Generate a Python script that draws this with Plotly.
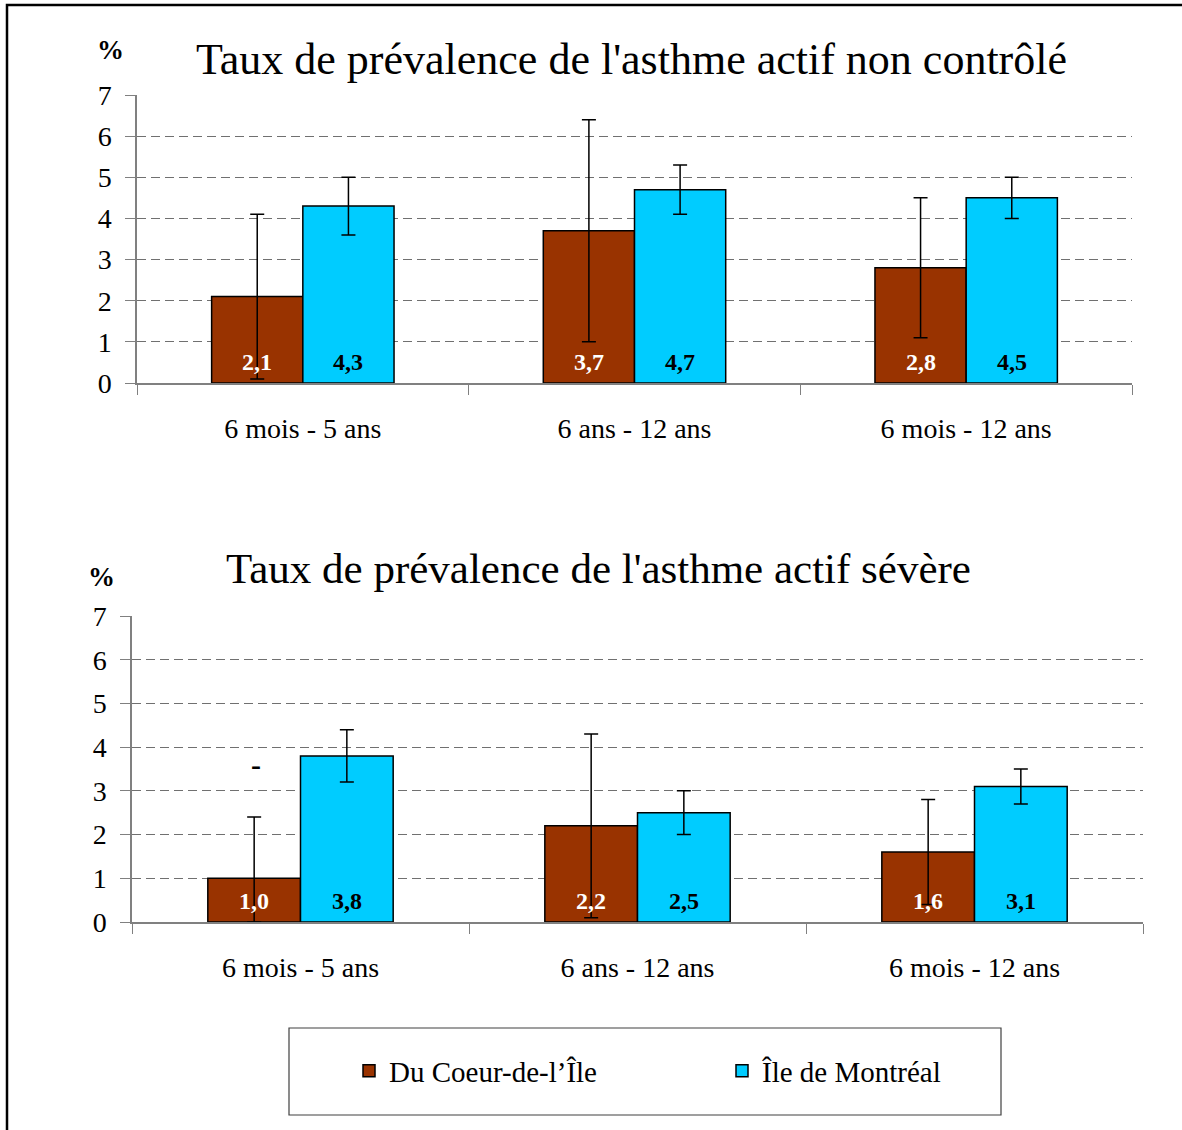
import plotly.graph_objects as go
from plotly.subplots import make_subplots

categories = ["6 mois - 5 ans", "6 ans - 12 ans", "6 mois - 12 ans"]
series_names = ["Du Coeur-de-l’Île", "Île de Montréal"]
colors = ["#993300", "#00CCFF"]
label_colors = ["white", "black"]

# Chart 1: asthme actif non contrôlé
top_coeur = [2.1, 3.7, 2.8]
top_coeur_lo = [0.1, 1.0, 1.1]
top_coeur_hi = [4.1, 6.4, 4.5]
top_mtl = [4.3, 4.7, 4.5]
top_mtl_lo = [3.6, 4.1, 4.0]
top_mtl_hi = [5.0, 5.3, 5.0]

# Chart 2: asthme actif sévère
bot_coeur = [1.0, 2.2, 1.6]
bot_coeur_lo = [0.0, 0.1, 0.4]
bot_coeur_hi = [2.4, 4.3, 2.8]
bot_mtl = [3.8, 2.5, 3.1]
bot_mtl_lo = [3.2, 2.0, 2.7]
bot_mtl_hi = [4.4, 3.0, 3.5]

titles = ["Taux de prévalence de l'asthme actif non contrôlé",
          "Taux de prévalence de l'asthme actif sévère"]
y_ticks = [0, 1, 2, 3, 4, 5, 6, 7]

W, H = 1182, 1130
FONT = "Liberation Serif, Times New Roman, serif"
BARGAP = 0.45


def fmt(v):
    return f"{v:.1f}".replace(".", ",")


def px_x(p):
    return p / W


def px_y(p):
    return 1 - p / H


domains = [
    dict(x=[px_x(137), px_x(1132)], y=[px_y(383), px_y(95)]),
    dict(x=[px_x(132), px_x(1143)], y=[px_y(922), px_y(616)]),
]

fig = make_subplots(rows=2, cols=1)

panels = [
    [(top_coeur, top_coeur_lo, top_coeur_hi), (top_mtl, top_mtl_lo, top_mtl_hi)],
    [(bot_coeur, bot_coeur_lo, bot_coeur_hi), (bot_mtl, bot_mtl_lo, bot_mtl_hi)],
]

annotations = []
for r, panel in enumerate(panels, start=1):
    # half bar width in pixels, from the axis length and the bar gap
    axis_px = (domains[r - 1]["x"][1] - domains[r - 1]["x"][0]) * W
    half_bar = axis_px / len(categories) * (1 - BARGAP) / 2 / 2
    xref = "x" if r == 1 else f"x{r}"
    yref = "y" if r == 1 else f"y{r}"
    for i, (vals, lo, hi) in enumerate(panel):
        fig.add_trace(go.Bar(
            x=categories, y=vals, name=series_names[i],
            marker=dict(color=colors[i], line=dict(color="black", width=1.5)),
            error_y=dict(type="data", symmetric=False,
                         array=[h - v for h, v in zip(hi, vals)],
                         arrayminus=[v - l for v, l in zip(vals, lo)],
                         color="black", thickness=1.5, width=7),
            showlegend=(r == 1),
        ), row=r, col=1)
        sign = -1 if i == 0 else 1
        for c, v in zip(categories, vals):
            annotations.append(dict(
                text=f"<b>{fmt(v)}</b>", x=c, y=0, xref=xref, yref=yref,
                xshift=sign * half_bar, yshift=21, xanchor="center",
                yanchor="middle", showarrow=False,
                font=dict(family=FONT, size=24, color=label_colors[i])))

for r, d in enumerate(domains, start=1):
    xa = "xaxis" if r == 1 else f"xaxis{r}"
    ya = "yaxis" if r == 1 else f"yaxis{r}"
    fig.layout[xa].update(
        domain=d["x"], showline=True, linecolor="#808080", linewidth=1.5,
        ticks="outside", tickson="boundaries", ticklen=10, tickcolor="#808080",
        tickfont=dict(family=FONT, size=28, color="black"),
        ticklabelstandoff=20, showgrid=False, zeroline=False, automargin=False,
    )
    fig.layout[ya].update(
        domain=d["y"], range=[0, 7], tickvals=y_ticks,
        showline=True, linecolor="#808080", linewidth=1.5,
        ticks="outside", ticklen=10, tickcolor="#808080",
        tickfont=dict(family=FONT, size=28, color="black"),
        ticklabelstandoff=8, automargin=False,
        showgrid=True, gridcolor="#707070", gridwidth=1.3, griddash="9px,5px",
        zeroline=False,
    )

annotations += [
    dict(text=titles[0], x=px_x(631), y=px_y(60), xref="paper", yref="paper",
         xanchor="center", yanchor="middle", showarrow=False,
         font=dict(family=FONT, size=44, color="black")),
    dict(text=titles[1], x=px_x(598), y=px_y(568), xref="paper", yref="paper",
         xanchor="center", yanchor="middle", showarrow=False,
         font=dict(family=FONT, size=43, color="black")),
    dict(text="<b>%</b>", x=px_x(110), y=px_y(50), xref="paper", yref="paper",
         xanchor="center", yanchor="middle", showarrow=False,
         font=dict(family=FONT, size=27, color="black")),
    dict(text="<b>%</b>", x=px_x(101), y=px_y(577), xref="paper", yref="paper",
         xanchor="center", yanchor="middle", showarrow=False,
         font=dict(family=FONT, size=27, color="black")),
    dict(text="<b>-</b>", x=categories[0], y=3.6, xref="x2", yref="y2",
         xshift=-45, xanchor="center", yanchor="middle", showarrow=False,
         font=dict(family=FONT, size=30, color="black")),
]

shapes = [
    # outer frame
    dict(type="rect", xref="paper", yref="paper", x0=px_x(7), x1=px_x(1195),
         y0=px_y(1145), y1=px_y(5), line=dict(color="black", width=2.5)),
    # legend box
    dict(type="rect", xref="paper", yref="paper", x0=px_x(289), x1=px_x(1001),
         y0=px_y(1115), y1=px_y(1028), line=dict(color="#404040", width=1.2)),
]

fig.update_layout(
    width=W, height=H, margin=dict(l=0, r=0, t=0, b=0, autoexpand=False),
    paper_bgcolor="white", plot_bgcolor="white",
    barmode="group", bargap=BARGAP, bargroupgap=0,
    annotations=annotations, shapes=shapes,
    font=dict(family=FONT, color="black"),
    legend=dict(orientation="h", x=px_x(349), y=px_y(1071), xanchor="left",
                yanchor="middle", font=dict(family=FONT, size=29, color="black"),
                entrywidth=328, entrywidthmode="pixels",
                bgcolor="rgba(0,0,0,0)", borderwidth=0),
)

fig.write_html("out.html", config={"displayModeBar": False},
               post_script="document.body.style.margin='0';document.body.style.overflow='hidden';")
